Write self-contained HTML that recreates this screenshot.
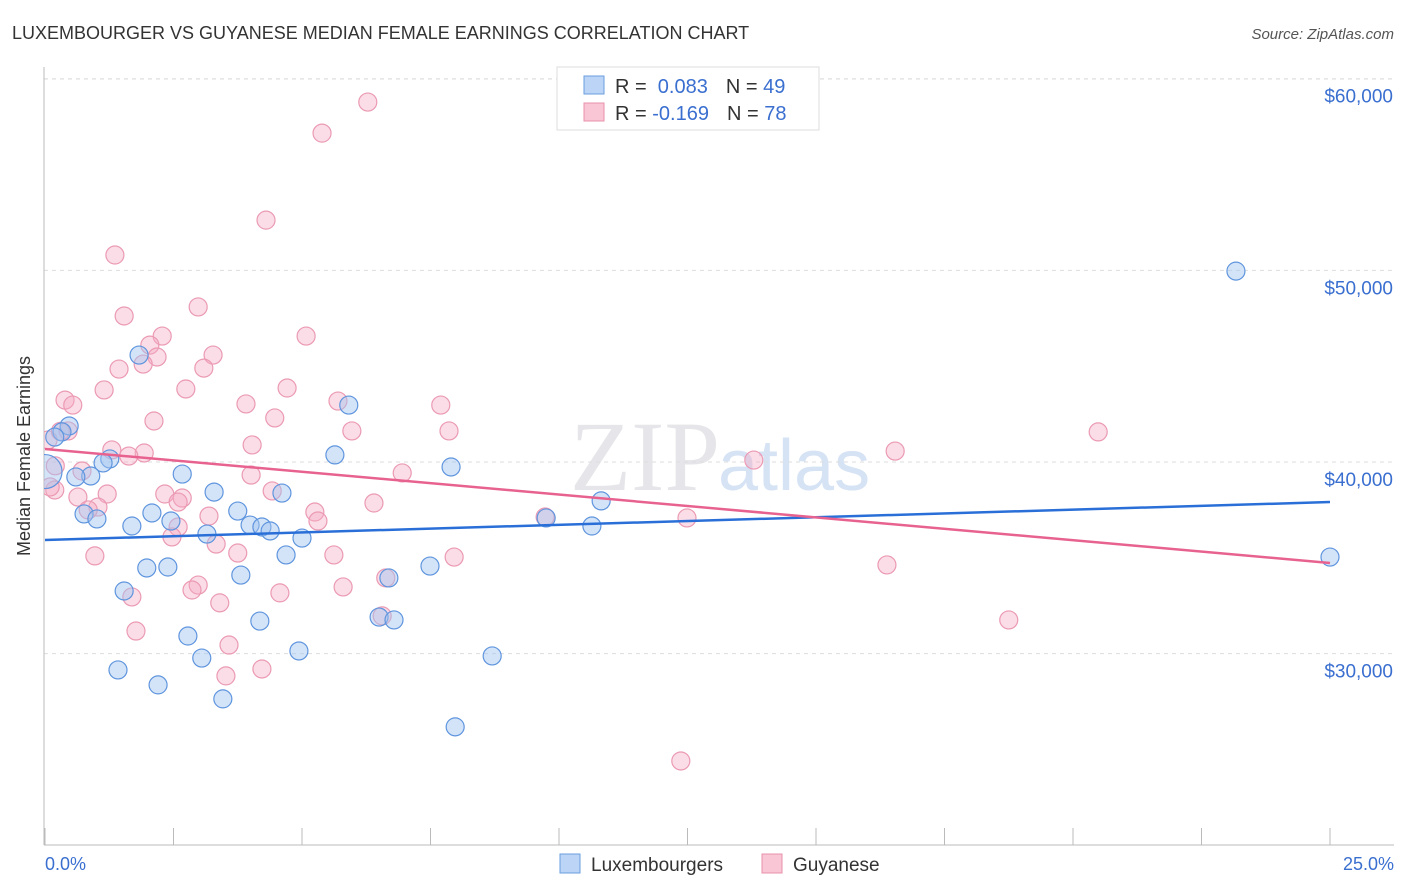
<!DOCTYPE html>
<html><head><meta charset="utf-8"><style>
body{margin:0;background:#fff;font-family:"Liberation Sans",sans-serif;}
#wrap{position:relative;width:1406px;height:892px;overflow:hidden;}
</style></head><body>
<div id="wrap">
<svg id="svg" width="1406" height="892" xmlns="http://www.w3.org/2000/svg">
<defs><clipPath id="plotclip"><rect x="44" y="60" width="1360" height="785"/></clipPath></defs>
<text x="12" y="39" font-size="18" fill="#333">LUXEMBOURGER VS GUYANESE MEDIAN FEMALE EARNINGS CORRELATION CHART</text>
<text x="1394" y="39" font-size="15" fill="#555" text-anchor="end" font-style="italic">Source: ZipAtlas.com</text>
<text x="720" y="490" font-size="100" fill="#e6e6ea" text-anchor="end" font-family="Liberation Serif">ZIP</text>
<text x="718" y="490" font-size="72" fill="#d6e3f5">atlas</text>
<g id="grid"></g>
<line x1="44" y1="67" x2="44" y2="845" stroke="#bbb"/>
<line x1="44" y1="845" x2="1394" y2="845" stroke="#bbb"/>
<g id="ticks"></g>
<g id="pts" clip-path="url(#plotclip)"></g>
<g id="trend"></g>
<text x="30" y="456" font-size="18" fill="#333" text-anchor="middle" transform="rotate(-90 30 456)">Median Female Earnings</text>
<text x="45" y="870" font-size="18" fill="#3a6fd0">0.0%</text>
<text x="1394" y="870" font-size="18" fill="#3a6fd0" text-anchor="end">25.0%</text>
<g>
<rect x="557" y="67" width="262" height="63" fill="#fff" stroke="#ddd"/>
<rect x="584" y="76" width="20" height="18" fill="#bcd4f5" stroke="#6a9ee0"/>
<rect x="584" y="103" width="20" height="18" fill="#f9c6d6" stroke="#e890ab"/>
<text x="615" y="93" font-size="20" fill="#333">R = <tspan fill="#3a6fd0">&#160;0.083</tspan><tspan dx="18">N = </tspan><tspan fill="#3a6fd0">49</tspan></text>
<text x="615" y="120" font-size="20" fill="#333">R = <tspan fill="#3a6fd0">-0.169</tspan><tspan dx="18">N = </tspan><tspan fill="#3a6fd0">78</tspan></text>
</g>
<g>
<rect x="560" y="854" width="20" height="19" fill="#bcd4f5" stroke="#6a9ee0"/>
<text x="591" y="871" font-size="19" fill="#333">Luxembourgers</text>
<rect x="762" y="854" width="20" height="19" fill="#f9c6d6" stroke="#e890ab"/>
<text x="793" y="871" font-size="19" fill="#333">Guyanese</text>
</g>
</svg>
</div>
<script>
const yTicks=[30000,40000,50000,60000];
const yTickLabels=["$30,000","$40,000","$50,000","$60,000"];
const xTicks=[0,2.5,5,7.5,10,12.5,15,17.5,20,22.5,25];
const luxX=[1.83,0.47,0.33,0.19,1.26,1.13,0.89,0.60,2.67,0.76,1.01,2.08,1.69,2.45,3.29,3.75,3.99,4.22,4.38,4.61,3.15,5.00,4.69,1.98,2.39,1.54,3.81,2.78,3.05,4.18,4.94,1.42,2.20,3.46,5.91,5.64,7.90,6.69,7.49,6.50,6.79,8.70,7.98,9.75,10.82,10.64,23.17,25.0,0.0];
const luxY=[45580,41880,41570,41300,40160,39950,39270,39220,39370,37290,37030,37340,36660,36920,38430,37440,36710,36610,36400,38380,36240,36030,35150,34470,34520,33270,34100,30920,29770,31700,30140,29150,28370,27640,42970,40370,39740,33950,34570,31910,31760,29880,26180,37080,37970,36660,49960,35040,39500];
const guyX=[6.28,5.39,4.30,1.36,2.98,1.54,5.08,2.28,2.04,2.18,3.27,1.44,1.91,3.09,1.15,2.74,4.71,0.39,0.54,2.12,3.91,5.70,4.47,5.97,7.70,7.86,0.45,4.03,1.30,1.93,1.63,0.72,4.01,6.95,0.19,0.64,1.21,2.33,2.67,2.59,4.42,6.40,1.03,0.84,5.25,5.31,2.59,3.19,2.47,3.33,3.75,5.62,0.97,7.96,6.63,2.98,2.86,4.57,5.80,1.69,3.40,1.77,3.58,4.22,3.52,9.73,12.49,13.79,16.54,20.49,16.38,18.75,12.37,6.56,0.06,0.2,0.1,0.3];
const guyY=[58780,57160,52620,50800,48090,47620,46570,46570,46100,45480,45580,44850,45110,44900,43760,43810,43860,43230,42970,42140,43030,43180,42300,41620,42970,41620,41620,40890,40630,40470,40310,39530,39320,39430,38540,38170,38330,38330,38120,37910,38490,37860,37650,37500,37390,36920,36610,37180,36090,35720,35250,35150,35100,35040,33950,33580,33320,33170,33480,32960,32650,31180,30450,29200,28840,37130,37080,40100,40570,41570,34630,31760,24400,31970,41150,39800,38700,41600];
const luxTrend=[35930,37910];
const guyTrend=[40680,34730];
const NS="http://www.w3.org/2000/svg";
function xs(v){return 45+v*(1330-45)/25;}
function ys(v){return 462-(v-40000)*0.019165;}
function mk(t,a,p){const e=document.createElementNS(NS,t);for(const k in a)e.setAttribute(k,a[k]);p.appendChild(e);return e;}
const grid=document.getElementById('grid'),ticks=document.getElementById('ticks'),pts=document.getElementById('pts'),tr=document.getElementById('trend');
yTicks.forEach((v,i)=>{
 const l=mk('line',{x1:44,x2:1394,y1:ys(v),y2:ys(v),stroke:'#ddd','stroke-dasharray':'4,4'},grid);
 
 
 const t=mk('text',{x:1393,y:ys(v)+24,'font-size':19,fill:'#3a6fd0','text-anchor':'end'},grid);
 t.textContent=yTickLabels[i];
 
 
});
mk('line',{x1:44,x2:1394,y1:79,y2:79,stroke:'#ddd','stroke-dasharray':'4,4'},grid);
xTicks.forEach(v=>{
 const l=mk('line',{x1:xs(v),x2:xs(v),y1:828,y2:845,stroke:'#bbb'},ticks);
 
 
});
guyX.forEach((x,i)=>{
 const c=mk('circle',{cx:xs(x),cy:ys(guyY[i]),r:9,fill:'rgba(245,170,195,0.4)',stroke:'#eb9ab3','stroke-width':1.2},pts);
 
 
});
luxX.forEach((x,i)=>{
 const c=mk('circle',{cx:xs(x),cy:ys(luxY[i]),r:i==48?17:9,fill:'rgba(160,195,240,0.45)',stroke:'#5f95de','stroke-width':1.2},pts);
 
 
});
const a=mk('line',{x1:xs(0),x2:xs(25),y1:ys(luxTrend[0]),y2:ys(luxTrend[1]),stroke:'#2a6fd8','stroke-width':2.5},tr);


const b=mk('line',{x1:xs(0),x2:xs(25),y1:ys(guyTrend[0]),y2:ys(guyTrend[1]),stroke:'#e8628f','stroke-width':2.5},tr);


</script>
</body></html>
